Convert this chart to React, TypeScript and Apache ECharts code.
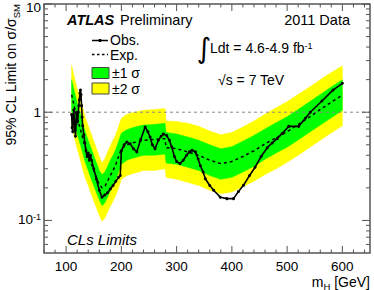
import React, { useEffect, useRef } from "react";
import * as echarts from "echarts";

// ---- axis ranges & ticks ----
const X_MIN = 60;
const X_MAX = 650;
const Y_MIN = 0.05;
const Y_MAX = 10;
const xMajorTicks = [100, 200, 300, 400, 500, 600];
const xMinorTicks = [60, 80, 120, 140, 160, 180, 220, 240, 260, 280, 320, 340, 360, 380, 420, 440, 460, 480, 520, 540, 560, 580, 620, 640];
const yMajorTicks = [0.1, 1, 10];
const yMinorTicks = [0.06, 0.07, 0.08, 0.09, 0.2, 0.3, 0.4, 0.5, 0.6, 0.7, 0.8, 0.9, 2, 3, 4, 5, 6, 7, 8, 9];

// ---- expected limit and bands ----
const bandMass = [110, 115, 120, 125, 130, 135, 140, 145, 150, 155, 160, 165, 170, 175, 180, 185, 190, 195, 200, 210, 220, 240, 260, 279, 281, 300, 320, 340, 360, 380, 400, 420, 440, 460, 480, 500, 520, 540, 560, 580, 600];
const expected = [1.45, 1.12, 0.88, 0.72, 0.58, 0.47, 0.4, 0.34, 0.29, 0.25, 0.215, 0.2, 0.205, 0.23, 0.26, 0.29, 0.33, 0.39, 0.46, 0.5, 0.52, 0.55, 0.56, 0.57, 0.47, 0.46, 0.43, 0.4, 0.36, 0.335, 0.35, 0.39, 0.44, 0.51, 0.58, 0.66, 0.77, 0.9, 1.06, 1.24, 1.44];
const plus1 = [2.0, 1.55, 1.22, 1.0, 0.8, 0.65, 0.55, 0.47, 0.4, 0.34, 0.29, 0.265, 0.28, 0.315, 0.36, 0.4, 0.455, 0.54, 0.64, 0.69, 0.72, 0.76, 0.77, 0.79, 0.65, 0.63, 0.59, 0.55, 0.5, 0.46, 0.48, 0.54, 0.61, 0.7, 0.8, 0.91, 1.06, 1.24, 1.46, 1.71, 1.99];
const minus1 = [1.03, 0.8, 0.63, 0.52, 0.42, 0.34, 0.29, 0.245, 0.21, 0.18, 0.155, 0.137, 0.145, 0.165, 0.187, 0.21, 0.237, 0.28, 0.33, 0.36, 0.375, 0.4, 0.4, 0.41, 0.34, 0.33, 0.31, 0.29, 0.26, 0.24, 0.25, 0.28, 0.317, 0.367, 0.42, 0.475, 0.555, 0.65, 0.76, 0.89, 1.04];
const plus2 = [2.7, 2.1, 1.66, 1.36, 1.1, 0.89, 0.75, 0.64, 0.54, 0.46, 0.39, 0.34, 0.37, 0.43, 0.49, 0.55, 0.62, 0.74, 0.88, 0.95, 0.99, 1.04, 1.06, 1.08, 0.83, 0.82, 0.79, 0.74, 0.67, 0.62, 0.65, 0.73, 0.83, 0.96, 1.1, 1.25, 1.46, 1.7, 2.0, 2.33, 2.68];
const minus2 = [0.75, 0.58, 0.46, 0.375, 0.3, 0.245, 0.21, 0.178, 0.152, 0.13, 0.112, 0.098, 0.105, 0.12, 0.135, 0.151, 0.172, 0.2, 0.24, 0.26, 0.27, 0.29, 0.29, 0.3, 0.25, 0.24, 0.225, 0.21, 0.19, 0.176, 0.183, 0.205, 0.23, 0.265, 0.3, 0.345, 0.4, 0.47, 0.55, 0.645, 0.75];

// ---- observed limit ----
const obsMass = [110, 111, 112, 113, 114, 115, 116, 117, 118, 119, 120, 121, 122, 123, 124, 125, 126, 127, 128, 129, 130, 132, 134, 136, 138, 140, 142, 144, 146, 150, 155, 160, 165, 170, 175, 180, 185, 190, 195, 198, 200, 205, 210, 216, 222, 228, 235, 243, 248, 252, 256, 261, 267, 272, 276, 282, 287, 291, 296, 300, 306, 312, 318, 323, 328, 334, 339, 343, 348, 352, 360, 367, 379, 391, 403, 412, 421, 432, 442, 453, 464, 473, 482, 491, 503, 521, 533, 542, 563, 583, 600];
const obsVal = [0.95, 0.72, 0.66, 0.9, 1.05, 0.85, 0.68, 0.6, 0.78, 1.0, 0.92, 0.82, 1.0, 1.15, 1.3, 1.5, 1.6, 1.45, 1.15, 0.9, 0.75, 0.62, 0.52, 0.44, 0.39, 0.42, 0.36, 0.4, 0.36, 0.3, 0.24, 0.19, 0.164, 0.172, 0.18, 0.195, 0.21, 0.23, 0.25, 0.26, 0.44, 0.5, 0.53, 0.51, 0.46, 0.43, 0.56, 0.73, 0.66, 0.59, 0.5, 0.46, 0.55, 0.6, 0.63, 0.61, 0.55, 0.48, 0.39, 0.35, 0.335, 0.36, 0.4, 0.43, 0.445, 0.43, 0.37, 0.32, 0.28, 0.243, 0.21, 0.19, 0.164, 0.159, 0.159, 0.185, 0.211, 0.26, 0.31, 0.39, 0.47, 0.52, 0.57, 0.635, 0.74, 0.74, 0.88, 1.0, 1.27, 1.6, 1.85];

const refLine = [[X_MIN, 1], [X_MAX, 1]];

const FONT = '"Liberation Sans", Arial, Helvetica, sans-serif';
const FRAME = "#555";
const GREEN = "#00ff00";
const YELLOW = "#ffff00";

function bandSeries(upper: number[], lower: number[], color: string, z: number) {
  return {
    type: "custom",
    coordinateSystem: "cartesian2d",
    silent: true,
    z,
    data: [[bandMass[0], lower[0]]],
    renderItem: (params: any, api: any) => {
      if (params.dataIndex !== 0) return null;
      const pts: number[][] = [];
      for (let i = 0; i < bandMass.length; i++) pts.push(api.coord([bandMass[i], upper[i]]));
      for (let i = bandMass.length - 1; i >= 0; i--) pts.push(api.coord([bandMass[i], lower[i]]));
      return { type: "polygon", shape: { points: pts }, style: { fill: color, stroke: color, lineWidth: 0.5 } };
    },
  };
}

export default function App() {
  const ref = useRef<HTMLDivElement>(null);
  useEffect(() => {
    const chart = echarts.init(ref.current!, null, { renderer: "svg" });
    const tickSeries = {
      type: "custom",
      coordinateSystem: "cartesian2d",
      silent: true,
      z: 10,
      data: [[100, 1]],
      renderItem: (params: any, api: any) => {
        if (params.dataIndex !== 0) return null;
        const children: any[] = [];
        const ln = (x1: number, y1: number, x2: number, y2: number) =>
          children.push({ type: "line", shape: { x1, y1, x2, y2 }, style: { stroke: FRAME, lineWidth: 1 } });
        const [xl, yb] = api.coord([X_MIN, Y_MIN]);
        const [xr, yt] = api.coord([X_MAX, Y_MAX]);
        xMajorTicks.forEach((m) => { const x = api.coord([m, 1])[0]; ln(x, yb, x, yb - 7); ln(x, yt, x, yt + 7); });
        xMinorTicks.forEach((m) => { const x = api.coord([m, 1])[0]; ln(x, yb, x, yb - 3.5); ln(x, yt, x, yt + 3.5); });
        yMajorTicks.forEach((v) => { const y = api.coord([100, v])[1]; ln(xl, y, xl + 8, y); ln(xr, y, xr - 8, y); });
        yMinorTicks.forEach((v) => { const y = api.coord([100, v])[1]; ln(xl, y, xl + 4, y); ln(xr, y, xr - 4, y); });
        return { type: "group", children };
      },
    };

    const option: any = {
      animation: false,
      backgroundColor: "#fff",
      textStyle: { fontFamily: FONT },
      grid: { left: 44, right: 4, top: 4, bottom: 37, show: true, borderColor: FRAME, borderWidth: 1.5, backgroundColor: "transparent", z: 20 },
      xAxis: {
        type: "value",
        min: X_MIN,
        max: X_MAX,
        interval: 20,
        axisLine: { show: false },
        axisTick: { show: false },
        splitLine: { show: false },
        axisLabel: {
          color: "#000",
          fontSize: 13.5,
          fontFamily: FONT,
          margin: 7,
          lineHeight: 13,
          formatter: (v: number) => (v % 100 === 0 ? String(v) : ""),
        },
      },
      yAxis: {
        type: "log",
        logBase: 10,
        min: Y_MIN,
        max: Y_MAX,
        axisLine: { show: false },
        axisTick: { show: false },
        splitLine: { show: false },
        minorSplitLine: { show: false },
        axisLabel: {
          color: "#000",
          fontSize: 13.5,
          fontFamily: FONT,
          margin: 3,
          formatter: (v: number) => {
            const l = Math.log10(v);
            if (Math.abs(l - 1) < 1e-6) return "{m|10}";
            if (Math.abs(l) < 1e-6) return "1";
            if (Math.abs(l + 1) < 1e-6) return "{a|10}{s|-1}";
            return "";
          },
          rich: {
            m: { fontSize: 13.5, padding: [7, 0, 0, 0] },
            a: { fontSize: 13.5, verticalAlign: "top", lineHeight: 16 },
            s: { fontSize: 9, verticalAlign: "top", lineHeight: 9 },
          },
        },
      },
      series: [
        bandSeries(plus2, minus2, YELLOW, 1),
        bandSeries(plus1, minus1, GREEN, 2),
        {
          type: "line",
          data: refLine,
          symbol: "none",
          silent: true,
          z: 3,
          lineStyle: { color: "#8a8a8a", width: 1, type: [3, 3] },
        },
        {
          type: "line",
          data: bandMass.map((m, i) => [m, expected[i]]),
          symbol: "none",
          silent: true,
          z: 4,
          lineStyle: { color: "#000", width: 1.5, type: [3, 3] },
        },
        {
          type: "line",
          data: obsMass.map((m, i) => [m, obsVal[i]]),
          symbol: "circle",
          symbolSize: 3,
          silent: true,
          z: 5,
          itemStyle: { color: "#000" },
          lineStyle: { color: "#000", width: 1.6 },
        },
        tickSeries,
      ],
      graphic: [
        // y-axis title
        {
          type: "text", x: 12, y: 4, rotation: Math.PI / 2, silent: true,
          style: {
            text: "{a|95% CL Limit on σ/σ}{b|SM}",
            align: "right", verticalAlign: "middle", fill: "#000",
            rich: {
              a: { fontSize: 14, fontFamily: FONT, verticalAlign: "top", lineHeight: 16 },
              b: { fontSize: 9.5, fontFamily: FONT, verticalAlign: "top", lineHeight: 10, padding: [7, 0, 0, 0] },
            },
          },
        },
        // x-axis title
        {
          type: "text", x: 370, y: 282, silent: true,
          style: {
            text: "{a|m}{b|H}{a| [GeV]}",
            align: "right", verticalAlign: "middle", fill: "#000",
            rich: {
              a: { fontSize: 14, fontFamily: FONT, verticalAlign: "top", lineHeight: 14 },
              b: { fontSize: 9.5, fontFamily: FONT, verticalAlign: "top", lineHeight: 9, padding: [6, 0, 0, 0] },
            },
          },
        },
        { type: "text", x: 67, y: 20, silent: true, style: { text: "ATLAS", fill: "#000", fontSize: 14.5, fontWeight: "bold", fontStyle: "italic", fontFamily: FONT, verticalAlign: "middle" } },
        { type: "text", x: 120, y: 20, silent: true, style: { text: "Preliminary", fill: "#000", fontSize: 14.5, fontFamily: FONT, verticalAlign: "middle" } },
        { type: "text", x: 350, y: 20, silent: true, style: { text: "2011 Data", fill: "#000", fontSize: 14.5, fontFamily: FONT, align: "right", verticalAlign: "middle" } },
        { type: "text", x: 204, y: 48, silent: true, style: { text: "∫", fill: "#000", fontSize: 28, fontFamily: '"DejaVu Sans", sans-serif', align: "center", verticalAlign: "middle" } },
        {
          type: "text", x: 210, y: 49, silent: true,
          style: {
            text: "{a|Ldt = 4.6-4.9 fb}{s|-1}", fill: "#000", verticalAlign: "middle",
            rich: {
              a: { fontSize: 14, fontFamily: FONT, verticalAlign: "top", lineHeight: 16 },
              s: { fontSize: 9, fontFamily: FONT, verticalAlign: "top", lineHeight: 9 },
            },
          },
        },
        { type: "text", x: 218, y: 80, silent: true, style: { text: "√s = 7 TeV", fill: "#000", fontSize: 14, fontFamily: FONT, verticalAlign: "middle" } },
        { type: "text", x: 67, y: 239, silent: true, style: { text: "CLs Limits", fill: "#000", fontSize: 15, fontStyle: "italic", fontFamily: FONT, verticalAlign: "middle" } },
        // legend
        { type: "line", silent: true, shape: { x1: 92, y1: 40.5, x2: 108, y2: 40.5 }, style: { stroke: "#000", lineWidth: 1.5 } },
        { type: "circle", silent: true, shape: { cx: 100, cy: 40.5, r: 1.6 }, style: { fill: "#000" } },
        { type: "line", silent: true, shape: { x1: 92, y1: 54.5, x2: 108, y2: 54.5 }, style: { stroke: "#000", lineWidth: 1.5, lineDash: [2.5, 2.5] } },
        { type: "text", x: 110, y: 39.5, silent: true, style: { text: "Obs.", fill: "#000", fontSize: 14, fontFamily: FONT, verticalAlign: "middle" } },
        { type: "text", x: 110, y: 55, silent: true, style: { text: "Exp.", fill: "#000", fontSize: 14, fontFamily: FONT, verticalAlign: "middle" } },
        { type: "rect", silent: true, shape: { x: 92, y: 67.5, width: 17, height: 11 }, style: { fill: GREEN, stroke: "#444", lineWidth: 1 } },
        { type: "rect", silent: true, shape: { x: 92, y: 83, width: 17, height: 11 }, style: { fill: YELLOW, stroke: "#444", lineWidth: 1 } },
        { type: "text", x: 112, y: 80.8, silent: true, style: { text: "±1 σ\n±2 σ", fill: "#000", fontSize: 14, lineHeight: 15.5, fontFamily: FONT, verticalAlign: "middle" } },
      ],
    };
    chart.setOption(option);
    return () => chart.dispose();
  }, []);
  return <div ref={ref} style={{ position: "absolute", left: 0, top: 0, width: 374, height: 290 }} />;
}
